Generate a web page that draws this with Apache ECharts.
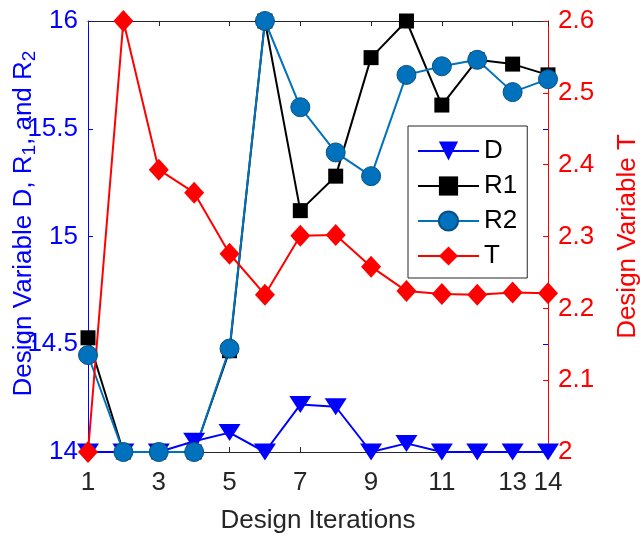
<!DOCTYPE html>
<html>
<head>
<meta charset="utf-8">
<script src="https://cdn.jsdelivr.net/npm/echarts@6/dist/echarts.min.js"></script>
<style>
  html, body { margin: 0; padding: 0; background: #fff; }
  #chart { width: 640px; height: 534px; }
</style>
</head>
<body>
<div id="chart"></div>
<script>
// Design iteration history of the four design variables
const iterations = [1, 2, 3, 4, 5, 6, 7, 8, 9, 10, 11, 12, 13, 14];
const dValues  = [14, 14, 14, 14.05, 14.09, 14, 14.22, 14.21, 14, 14.04, 14, 14, 14, 14];
const r1Values = [14.53, 14, 14, 14, 14.47, 16, 15.12, 15.28, 15.83, 16, 15.61, 15.82, 15.80, 15.75];
const r2Values = [14.45, 14, 14, 14, 14.48, 16, 15.60, 15.39, 15.28, 15.75, 15.79, 15.82, 15.67, 15.73];
const tValues  = [2, 2.6, 2.393, 2.361, 2.276, 2.219, 2.301, 2.302, 2.258, 2.224, 2.220, 2.219, 2.222, 2.221];
const xTickValues = [1, 3, 5, 7, 9, 11, 13, 14];

const FONT = "'Liberation Sans', Arial, Helvetica, sans-serif";
const pairs = vals => iterations.map((x, i) => [x, vals[i]]);

const chart = echarts.init(document.getElementById('chart'), null, { renderer: 'canvas' });

const lineSeries = (name, vals, color, symbol, size, yAxisIndex, extra) => Object.assign({
  name: name,
  type: 'line',
  data: pairs(vals),
  xAxisIndex: 0,
  yAxisIndex: yAxisIndex,
  symbol: symbol,
  symbolSize: size,
  showAllSymbol: true,
  clip: false,
  lineStyle: { color: color, width: 2 },
  itemStyle: { color: color },
  emphasis: { disabled: true }
}, extra || {});

chart.setOption({
  animation: false,
  textStyle: { fontFamily: FONT },
  grid: { left: 88, right: 92, top: 21, bottom: 82, containLabel: false, outerBoundsMode: 'none' },
  legend: {
    data: ['D', 'R1', 'R2', 'T'],
    orient: 'vertical',
    left: 408,
    top: 126,
    itemWidth: 61,
    itemHeight: 24,
    itemGap: 9,
    padding: [12, 10, 9, 9],
    borderColor: '#262626',
    borderWidth: 1,
    backgroundColor: '#fff',
    textStyle: { fontSize: 26, color: '#000', fontFamily: FONT }
  },
  xAxis: [{
    type: 'value',
    min: 1, max: 14, interval: 1,
    name: 'Design Iterations',
    nameLocation: 'middle',
    nameGap: 56,
    nameMoveOverlap: false,
    nameTextStyle: { fontSize: 26, color: '#262626', fontFamily: FONT },
    axisLine: { lineStyle: { color: '#262626', width: 1 } },
    axisTick: { inside: true, length: 5, customValues: xTickValues, lineStyle: { color: '#262626' } },
    axisLabel: { customValues: xTickValues, fontSize: 26, color: '#262626', margin: 18, fontFamily: FONT },
    splitLine: { show: false }
  }, {
    type: 'value',
    position: 'top',
    min: 1, max: 14, interval: 1,
    axisLine: { show: true, lineStyle: { color: '#262626', width: 1 } },
    axisTick: { inside: true, length: 5, customValues: xTickValues, lineStyle: { color: '#262626' } },
    axisLabel: { show: false },
    splitLine: { show: false }
  }],
  yAxis: [{
    type: 'value',
    position: 'left',
    min: 14, max: 16, interval: 0.5,
    name: '{a|Design Variable D, R}{s|1}{a|, and R}{s|2}',
    nameLocation: 'middle',
    nameGap: 49,
    nameMoveOverlap: false,
    nameTextStyle: {
      padding: [0, 0, 0, 26],
      rich: {
        a: { fontSize: 26, color: '#0000ff', fontFamily: FONT, lineHeight: 30 },
        s: { fontSize: 19, color: '#0000ff', fontFamily: FONT, padding: [12, 0, 0, 0] }
      }
    },
    axisLine: { show: true, lineStyle: { color: '#0000ff', width: 1 } },
    axisTick: { show: true, inside: true, length: 5, lineStyle: { color: '#0000ff' } },
    axisLabel: { fontSize: 26, color: '#0000ff', margin: 10, fontFamily: FONT },
    splitLine: { show: false }
  }, {
    // mirrored ticks of the left scale along the right edge
    type: 'value',
    position: 'right',
    min: 14, max: 16, interval: 0.5,
    axisLine: { show: false },
    axisTick: { show: true, inside: true, length: 5, lineStyle: { color: '#0000ff' } },
    axisLabel: { show: false },
    splitLine: { show: false }
  }, {
    type: 'value',
    position: 'right',
    min: 2, max: 2.6, interval: 0.1,
    name: 'Design Variable T',
    nameLocation: 'middle',
    nameGap: 67,
    nameMoveOverlap: false,
    nameTextStyle: { fontSize: 26, color: '#ff0000', fontFamily: FONT },
    axisLine: { show: true, lineStyle: { color: '#ff0000', width: 1 } },
    axisTick: { show: true, inside: true, length: 5, lineStyle: { color: '#ff0000' } },
    axisLabel: { fontSize: 26, color: '#ff0000', margin: 10, fontFamily: FONT,
      formatter: v => String(Math.round(v * 10) / 10) },
    splitLine: { show: false }
  }],
  series: [
    lineSeries('D', dValues, '#0000ff', 'triangle', [22, 17], 0, { symbolRotate: 180 }),
    lineSeries('R1', r1Values, '#000000', 'rect', 15, 0),
    lineSeries('R2', r2Values, '#0072bd', 'circle', 19, 0,
      { itemStyle: { color: '#0072bd', borderColor: '#0a4f80', borderWidth: 1 } }),
    lineSeries('T', tValues, '#ff0000', 'diamond', [20, 22], 2)
  ]
});
</script>
</body>
</html>
